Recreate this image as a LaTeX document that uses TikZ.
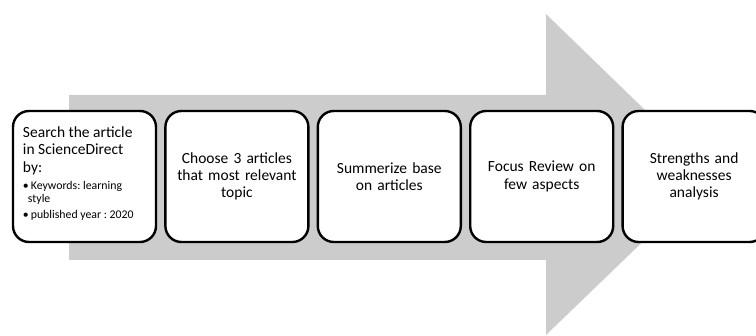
\documentclass[tikz,border=0pt]{standalone}
\usepackage{fontspec}
\setmainfont{Carlito}
\usetikzlibrary{positioning}
\definecolor{arrowgrey}{RGB}{204,204,204}
\frenchspacing
\tikzset{
  stepbox/.style={draw,line width=2.4pt,rounded corners=16pt,fill=white,
    minimum width=143pt,minimum height=131pt,inner sep=10pt,text width=123pt,
    align=center,font=\fontsize{15.5}{17.3}\selectfont},
}
\begin{document}
\begin{tikzpicture}[x=1pt,y=-1pt]
\useasboundingbox (0,0) rectangle (756,336);
% Koordinaten
\coordinate (arrowbodytopleft) at (69,95);
\coordinate (arrowbodytopright) at (546,95);
\coordinate (arrowheadtop) at (546,14);
\coordinate (arrowtip) at (712,175);
\coordinate (arrowheadbottom) at (546,335);
\coordinate (arrowbodybottomright) at (546,260);
\coordinate (arrowbodybottomleft) at (69,260);

% Pfeil
\fill[arrowgrey] (arrowbodytopleft) -- (arrowbodytopright) -- (arrowheadtop) -- (arrowtip)
  -- (arrowheadbottom) -- (arrowbodybottomright) -- (arrowbodybottomleft) -- cycle;

% Schritte
\node[stepbox,text width=] (search) at (84.5,176.5) {\parbox{123pt}{\raggedright
Search the article\\in ScienceDirect\\by:\par\vspace{4pt}
\fontsize{11.8}{13.4}\selectfont\textbullet\,Keywords: learning\\\hspace*{5pt}style\par\vspace{2pt}
\textbullet\,published year : 2020\par\vspace{6pt}}};
\node[stepbox,right=7pt of search] (choose) {Choose 3 articles\\that most relevant\\topic};
\node[stepbox,right=7pt of choose] (summarize) {Summerize base\\on articles};
\node[stepbox,right=7pt of summarize] (focus) {Focus Review on\\few aspects};
\node[stepbox,right=7pt of focus] (analysis) {Strengths and\\weaknesses\\analysis};
\end{tikzpicture}
\end{document}
